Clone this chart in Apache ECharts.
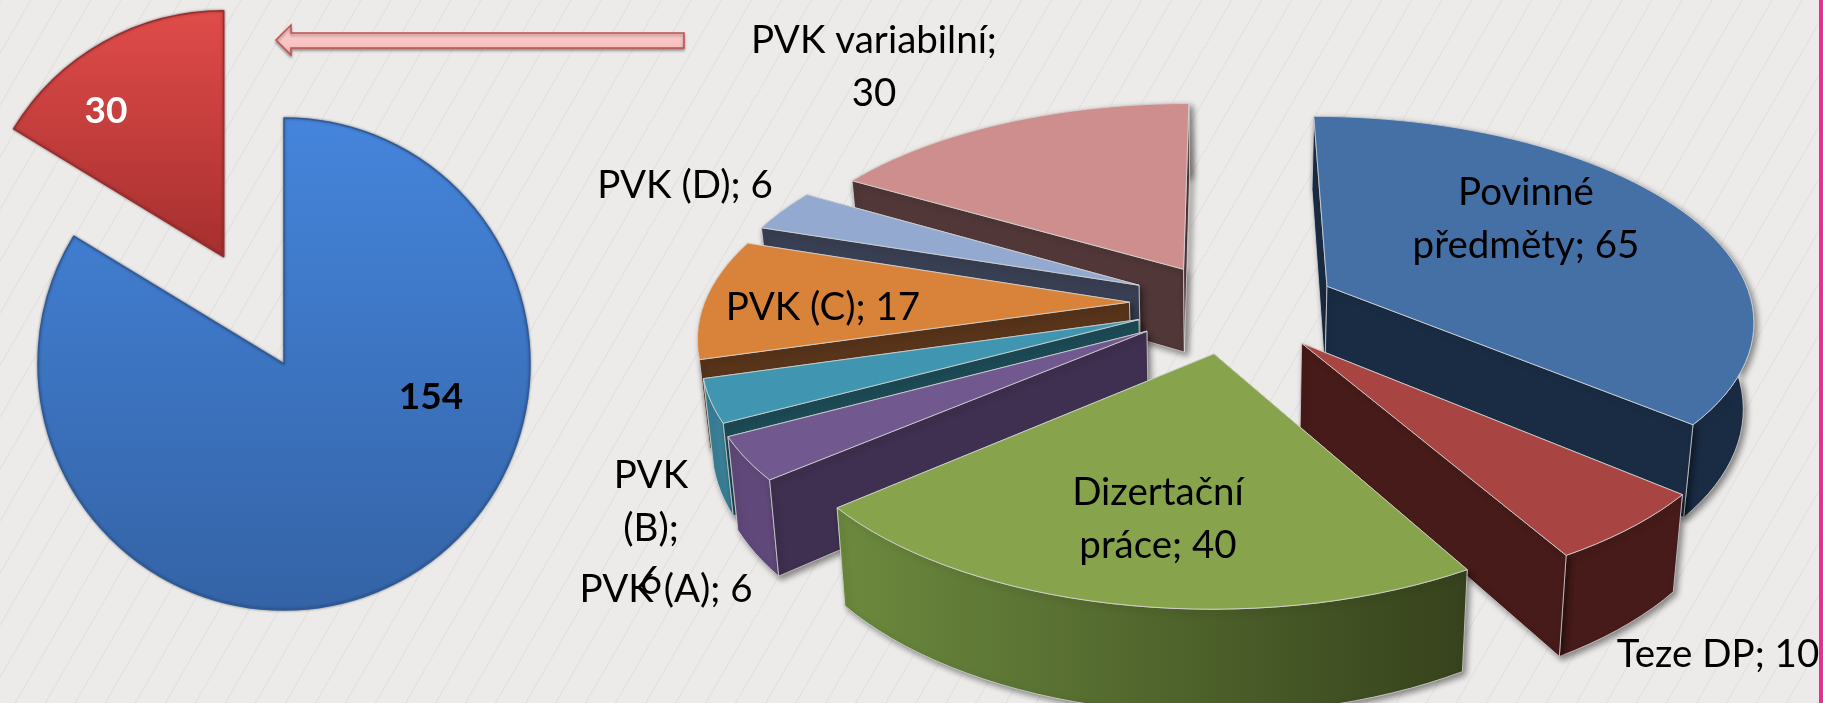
<!DOCTYPE html>
<html>
<head>
<meta charset="utf-8">
<title>PVK</title>
<script src="https://cdn.jsdelivr.net/npm/echarts@6/dist/echarts.min.js"></script>
<style>
  html, body { margin: 0; padding: 0; width: 100%; height: 100%; overflow: hidden; }
  body {
    background: repeating-linear-gradient(120deg, #e3e2e0 0, #e3e2e0 1px, #ecebe9 1.6px, #ecebe9 26px);
  }
  #chart { position: absolute; left: 0; top: 0; width: 1823px; height: 703px; }
  #edge { position: absolute; left: 1819px; top: 0; width: 4px; height: 703px; background: #e5308f; }
</style>
</head>
<body>
<div id="chart"></div>
<div id="edge"></div>
<script>
// left pie
const totalNames = ['Ostatní', 'PVK variabilní']
const totalValues = [154, 30]

// right pie, clockwise from the top
const categories = ['Povinné předměty', 'Teze DP', 'Dizertační práce', 'PVK (A)', 'PVK (B)', 'PVK (C)', 'PVK (D)', 'PVK variabilní']
const values = [65, 10, 40, 6, 6, 17, 6, 30]

// look of the right pie, same order as categories
const topColors = ['#4470a6', '#a84442', '#87a44c', '#71588f', '#4096b0', '#d9823a', '#93a9cf', '#ce8e8e']
const cutColors = ['#1a2c44', '#461b19', '#36421c', '#3f2f50', '#1c4a55', '#57341a', '#393f52', '#513737']
const wallColors = ['#1a2c44', '#461b19', '#36421c', '#60497a', '#3a8098', '#9c5a24', '#6a7a9a', '#94605f']
// how far each slice is pulled out of the pie, in radii
const pullU = [0.243, 0.175, -0.025, -0.18, -0.2, -0.225, -0.205, -0.1]
const pullV = [0.085, -0.195, -0.245, -0.138, -0.082, 0.004, 0.09, 0.173]
const paintOrder = [5, 6, 7, 4, 3, 2, 1, 0] // z per slice, back to front
const labelSpots = [[1526, 219], [1718, 655], [1158, 519], [666, 590], [651, 529], [823, 308], [685, 186], [874, 67]]
const labelBreaks = [[1], [], [1], [], [1, 2], [], [], [2]]

// projection of the tilted pie
const cx = 1225
const cy = 303
const scaleX = 425
const scaleY = 200
const persp = 0.15
const depth = 85
const labelFont = '38.5px Lato'

function project(u, v, down) {
  const w = 1 / (1 + persp * v)
  return [
    cx + scaleX * u * w * (down ? 0.98 : 1),
    cy - scaleY * v * w + (down ? depth * w : 0)
  ]
}

const total = values.reduce((a, b) => a + b, 0)

// a cut face shows only when the slice top lies above its edge on screen
function cutVisible(from, to, other) {
  const ex = to[0] - from[0]
  const ey = to[1] - from[1]
  const side = ex * (other[1] - from[1]) - ey * (other[0] - from[0])
  return side * ex < 0
}

function renderSlice(params, api) {
  const i = params.dataIndex
  const before = values.slice(0, i).reduce((a, b) => a + b, 0)
  const a0 = before / total * Math.PI * 2
  const a1 = (before + api.value(0)) / total * Math.PI * 2
  const ou = pullU[i]
  const ov = pullV[i]

  const rim = []
  const steps = Math.max(6, Math.round((a1 - a0) / 0.04))
  for (let s = 0; s <= steps; s++) {
    const a = a0 + (a1 - a0) * s / steps
    rim.push([ou + Math.sin(a), ov + Math.cos(a)])
  }
  const topRim = rim.map(p => project(p[0], p[1], false))
  const lowRim = rim.map(p => project(p[0], p[1], true))
  const apexTop = project(ou, ov, false)
  const apexLow = project(ou, ov, true)
  const last = rim.length - 1

  const z = paintOrder[i] * 10
  const face = (points, fill, z2, shadow) => ({
    type: 'polygon',
    z2: z + z2,
    shape: { points },
    style: {
      fill,
      stroke: '#d6d6d6',
      lineWidth: 0.8,
      shadowBlur: shadow ? 6 : 0,
      shadowColor: 'rgba(0,0,0,0.45)',
      shadowOffsetX: shadow ? 3 : 0,
      shadowOffsetY: shadow ? 3 : 0
    }
  })

  // green slice has its wall shaded from left to right
  const wallFill = i === 2
    ? new echarts.graphic.LinearGradient(0, 0, 1, 0, [
        { offset: 0, color: '#6c8a3e' },
        { offset: 1, color: '#36421c' }
      ])
    : wallColors[i]

  const cut0Front = cutVisible(apexTop, topRim[0], topRim[last])
  const cut1Front = cutVisible(apexTop, topRim[last], topRim[0])
  const cut0 = face([apexTop, topRim[0], lowRim[0], apexLow], cutColors[i], cut0Front ? 3 : 1, cut0Front)
  const cut1 = face([apexTop, topRim[last], lowRim[last], apexLow], cutColors[i], cut1Front ? 3 : 1, cut1Front)
  const wall = face(topRim.concat(lowRim.slice().reverse()), wallFill, 2, true)
  const top = face([apexTop].concat(topRim), topColors[i], 4, false)

  const words = (categories[i] + '; ' + api.value(0)).split(' ')
  const text = words.reduce((acc, w, k) => acc + (k === 0 ? '' : labelBreaks[i].includes(k) ? '\n' : ' ') + w, '')

  return {
    type: 'group',
    children: [cut0, cut1, wall, top, {
      type: 'text',
      z2: 200,
      x: labelSpots[i][0],
      y: labelSpots[i][1],
      style: {
        text,
        font: labelFont,
        lineHeight: 53,
        fill: '#000',
        align: 'center',
        verticalAlign: 'middle'
      }
    }]
  }
}

const chart = echarts.init(document.getElementById('chart'), null, { renderer: 'canvas' })
chart.setOption({
  animation: false,
  backgroundColor: 'transparent',
  graphic: [
    {
      type: 'polygon',
      z: 1,
      shape: { points: [[276, 40], [291, 25], [291, 33], [684, 33], [684, 48], [291, 48], [291, 55]] },
      style: {
        fill: new echarts.graphic.LinearGradient(0, 0, 0, 1, [
          { offset: 0, color: '#fbd2d2' },
          { offset: 1, color: '#f9b8b8' }
        ]),
        stroke: '#c0504d',
        lineWidth: 1.5,
        shadowBlur: 3,
        shadowColor: 'rgba(0,0,0,0.35)',
        shadowOffsetY: 2
      }
    },
    {
      // the pie ignores labelLayout on a selected slice, so this one sits here
      type: 'text',
      z: 10,
      x: 106,
      y: 111,
      style: {
        text: String(totalValues[1]),
        font: 'bold 37px Lato',
        fill: '#fff',
        align: 'center',
        verticalAlign: 'middle'
      }
    }
  ],
  series: [
    {
      type: 'pie',
      center: [284, 364],
      radius: [0, 246],
      startAngle: 90,
      selectedMode: 'single',
      selectedOffset: 123,
      silent: true,
      data: [
        {
          name: totalNames[0],
          value: totalValues[0],
          itemStyle: {
            color: new echarts.graphic.LinearGradient(0, 0, 0, 1, [
              { offset: 0, color: '#4585dc' },
              { offset: 1, color: '#3463a6' }
            ]),
            borderColor: '#2f5a98',
            borderWidth: 1.5,
            shadowBlur: 3,
            shadowColor: 'rgba(0,0,0,0.4)'
          },
          label: { show: true, color: '#000' }
        },
        {
          name: totalNames[1],
          value: totalValues[1],
          selected: true,
          itemStyle: {
            color: new echarts.graphic.LinearGradient(0, 0, 0, 1, [
              { offset: 0, color: '#e04c4a' },
              { offset: 1, color: '#a52f2e' }
            ]),
            borderColor: '#9a2c2b',
            borderWidth: 1.5,
            shadowBlur: 3,
            shadowColor: 'rgba(0,0,0,0.4)'
          },
          label: { show: false }
        }
      ],
      label: {
        position: 'inside',
        formatter: '{c}',
        fontFamily: 'Lato',
        fontWeight: 'bold',
        fontSize: 37
      },
      labelLine: { show: false },
      labelLayout: { x: 431, y: 397, align: 'center', verticalAlign: 'middle' }
    },
    {
      type: 'custom',
      coordinateSystem: 'none',
      silent: true,
      clip: false,
      data: values,
      renderItem: renderSlice
    }
  ]
})
</script>
</body>
</html>
